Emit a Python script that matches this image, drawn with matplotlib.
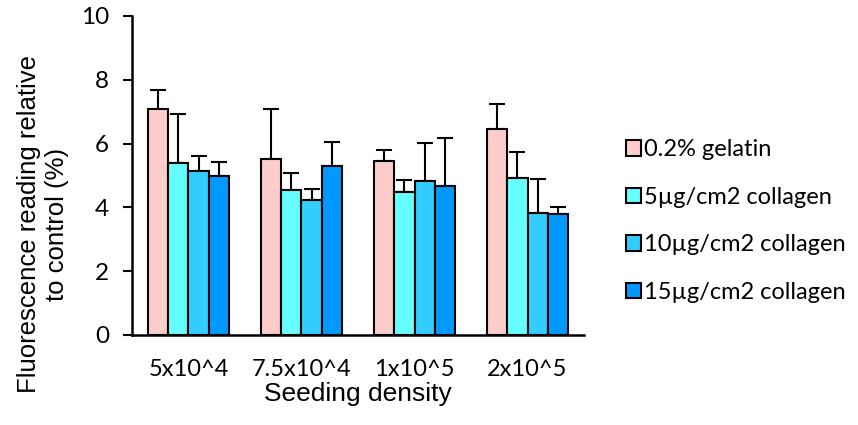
import numpy as np
from matplotlib import pyplot as plt

densities = ['5x10^4', '7.5x10^4', '1x10^5', '2x10^5']
coatings = ['0.2% gelatin', '5µg/cm2 collagen', '10µg/cm2 collagen', '15µg/cm2 collagen']
colors = ['#FFCCCC', '#66FFFF', '#33CCFF', '#0099FF']

# mean values per coating, one entry per seeding density
gelatin = [7.08, 5.52, 5.45, 6.46]
coll_5 = [5.40, 4.55, 4.47, 4.93]
coll_10 = [5.14, 4.23, 4.83, 3.82]
coll_15 = [4.99, 5.31, 4.67, 3.80]

# upper error (sd)
gelatin_err = [0.60, 1.55, 0.35, 0.78]
coll_5_err = [1.54, 0.53, 0.38, 0.80]
coll_10_err = [0.47, 0.36, 1.19, 1.07]
coll_15_err = [0.43, 0.73, 1.50, 0.22]

means = [gelatin, coll_5, coll_10, coll_15]
errs = [gelatin_err, coll_5_err, coll_10_err, coll_15_err]

fig = plt.figure(figsize=(8.58, 4.25), dpi=100)
ax = fig.add_axes([0.1538, 0.2118, 0.6807 - 0.1538, 0.9624 - 0.2118])

x = np.arange(len(densities))
w = 0.18
for i in range(4):
    pos = x + (i - 1.5) * w
    ax.bar(pos, means[i], w, color=colors[i], edgecolor='black', linewidth=1.5,
           label=coatings[i], zorder=2)
    ax.errorbar(pos, means[i], yerr=[np.zeros(4), errs[i]], fmt='none',
                ecolor='black', elinewidth=1.5, capsize=5.5, capthick=1.5, zorder=1)

ax.set_xlim(-0.5, 3.5)
ax.set_ylim(0, 10)
ax.set_yticks([0, 2, 4, 6, 8, 10])
ax.set_xticks(x)
ax.set_xticklabels(densities, fontfamily='Lato', fontsize=17)
for lab in ax.get_yticklabels():
    lab.set_fontfamily('Lato')
    lab.set_fontsize(17.5)
ax.tick_params(axis='x', length=0, pad=17)
ax.tick_params(axis='y', direction='out', length=6.5, width=1.5, pad=10)
for s in ['top', 'right']:
    ax.spines[s].set_visible(False)
for s in ['left', 'bottom']:
    ax.spines[s].set_linewidth(1.8)

ax.set_xlabel('Seeding density', fontfamily='Liberation Sans', fontsize=19, labelpad=2)
ax.set_ylabel('Fluorescence reading relative\nto control (%)',
              fontfamily='Liberation Sans', fontsize=18.5, linespacing=1.2,
              multialignment='center')
ax.yaxis.set_label_coords(-0.14, 0.348)

ax.legend(loc='center left', bbox_to_anchor=(1.046, 0.357), frameon=False,
          prop={'family': 'Lato', 'size': 17}, handlelength=0.62, handleheight=0.62,
          handletextpad=0.15, labelspacing=1.12)

fig.savefig('out.png', dpi=100)
